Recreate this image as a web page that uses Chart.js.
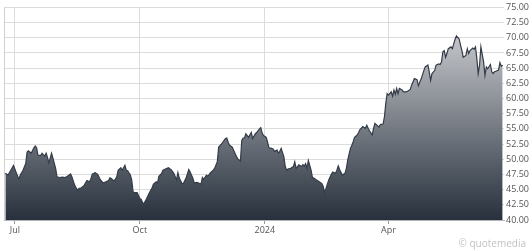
<!DOCTYPE html>
<html>
<head>
<meta charset="utf-8">
<script src="https://cdn.jsdelivr.net/npm/chart.js@4.4.1/dist/chart.umd.min.js"></script>
<style>
  html, body { margin: 0; padding: 0; background: #fff; }
  #grafico { display: block; }
</style>
</head>
<body>
<canvas id="grafico" width="532" height="251"></canvas>
<script>
// Datas das cotações (aprox. diário) e preços de fechamento
const datas = [
  "2023-06-24","2023-06-26","2023-06-28","2023-06-30","2023-07-02","2023-07-04","2023-07-05","2023-07-07","2023-07-09","2023-07-10",
  "2023-07-11","2023-07-13","2023-07-15","2023-07-16","2023-07-17","2023-07-18","2023-07-20","2023-07-21","2023-07-23","2023-07-24",
  "2023-07-25","2023-07-26","2023-07-28","2023-07-29","2023-07-31","2023-08-01","2023-08-03","2023-08-05","2023-08-07","2023-08-08",
  "2023-08-11","2023-08-12","2023-08-14","2023-08-16","2023-08-17","2023-08-19","2023-08-21","2023-08-23","2023-08-25","2023-08-26",
  "2023-08-27","2023-08-29","2023-08-31","2023-09-02","2023-09-04","2023-09-06","2023-09-08","2023-09-09","2023-09-10","2023-09-12",
  "2023-09-14","2023-09-15","2023-09-17","2023-09-18","2023-09-20","2023-09-21","2023-09-22","2023-09-24","2023-09-25","2023-09-26",
  "2023-09-27","2023-09-29","2023-10-01","2023-10-02","2023-10-03","2023-10-04","2023-10-06","2023-10-08","2023-10-10","2023-10-11",
  "2023-10-13","2023-10-14","2023-10-15","2023-10-17","2023-10-18","2023-10-21","2023-10-22","2023-10-24","2023-10-26","2023-10-28",
  "2023-10-29","2023-10-30","2023-11-01","2023-11-02","2023-11-04","2023-11-06","2023-11-07","2023-11-09","2023-11-10","2023-11-12",
  "2023-11-14","2023-11-15","2023-11-16","2023-11-17","2023-11-19","2023-11-20","2023-11-22","2023-11-24","2023-11-25","2023-11-27",
  "2023-11-28","2023-11-30","2023-12-01","2023-12-03","2023-12-04","2023-12-05","2023-12-06","2023-12-08","2023-12-09","2023-12-11",
  "2023-12-12","2023-12-14","2023-12-15","2023-12-16","2023-12-17","2023-12-18","2023-12-19","2023-12-20","2023-12-22","2023-12-23",
  "2023-12-25","2023-12-26","2023-12-28","2023-12-29","2023-12-30","2023-12-31","2024-01-02","2024-01-03","2024-01-04","2024-01-06",
  "2024-01-07","2024-01-08","2024-01-10","2024-01-11","2024-01-12","2024-01-13","2024-01-15","2024-01-16","2024-01-17","2024-01-18",
  "2024-01-20","2024-01-22","2024-01-23","2024-01-24","2024-01-25","2024-01-26","2024-01-28","2024-01-29","2024-01-30","2024-01-31",
  "2024-02-01","2024-02-02","2024-02-04","2024-02-05","2024-02-06","2024-02-08","2024-02-10","2024-02-12","2024-02-13","2024-02-14",
  "2024-02-15","2024-02-17","2024-02-19","2024-02-20","2024-02-22","2024-02-23","2024-02-24","2024-02-25","2024-02-27","2024-02-29",
  "2024-03-01","2024-03-02","2024-03-04","2024-03-05","2024-03-06","2024-03-07","2024-03-09","2024-03-10","2024-03-11","2024-03-12",
  "2024-03-13","2024-03-15","2024-03-16","2024-03-17","2024-03-18","2024-03-20","2024-03-21","2024-03-22","2024-03-24","2024-03-25",
  "2024-03-26","2024-03-28","2024-03-29","2024-03-30","2024-03-31","2024-04-01","2024-04-03","2024-04-04","2024-04-05","2024-04-06",
  "2024-04-07","2024-04-08","2024-04-09","2024-04-11","2024-04-12","2024-04-13","2024-04-14","2024-04-15","2024-04-17","2024-04-18",
  "2024-04-19","2024-04-20","2024-04-22","2024-04-23","2024-04-24","2024-04-25","2024-04-27","2024-04-28","2024-04-30","2024-05-01",
  "2024-05-02","2024-05-03","2024-05-05","2024-05-06","2024-05-08","2024-05-09","2024-05-10","2024-05-11","2024-05-12","2024-05-13",
  "2024-05-14","2024-05-15","2024-05-17","2024-05-18","2024-05-19","2024-05-20","2024-05-21","2024-05-23","2024-05-24","2024-05-25",
  "2024-05-26","2024-05-28","2024-05-29","2024-05-30","2024-05-31","2024-06-02","2024-06-03","2024-06-04","2024-06-05","2024-06-06",
  "2024-06-07","2024-06-08","2024-06-10","2024-06-11","2024-06-12","2024-06-13","2024-06-15","2024-06-16","2024-06-17","2024-06-18",
  "2024-06-19","2024-06-21","2024-06-22","2024-06-23","2024-06-24"
]
const precos = [
  47.7, 47.4, 48.2, 49.0, 47.8, 46.7, 47.4, 48.2, 49.3, 51.2,
  51.4, 51.0, 51.9, 52.2, 51.9, 50.7, 50.6, 51.0, 50.5, 51.0,
  50.3, 49.4, 51.0, 50.2, 48.5, 47.1, 47.0, 47.05, 47.0, 47.1,
  47.6, 47.1, 45.75, 44.9, 45.2, 45.3, 45.7, 46.5, 46.3, 46.85,
  47.55, 47.8, 47.5, 46.6, 46.1, 46.3, 46.5, 46.95, 46.85, 46.4,
  47.1, 48.2, 48.6, 48.2, 49.0, 48.2, 48.1, 47.4, 46.6, 44.65,
  44.5, 44.5, 43.55, 43.4, 42.85, 42.7, 43.55, 44.5, 45.3, 45.9,
  46.3, 46.1, 47.2, 47.65, 48.2, 48.5, 48.6, 48.3, 47.7, 46.6,
  47.8, 46.9, 46.0, 46.0, 46.9, 48.3, 47.9, 46.9, 46.1, 46.2,
  46.0, 45.9, 47.0, 46.7, 47.4, 47.2, 47.8, 48.2, 48.5, 49.6,
  52.0, 52.5, 52.8, 53.4, 53.5, 52.8, 52.3, 52.0, 51.5, 50.5,
  50.1, 49.7, 53.1, 53.5, 53.5, 54.2, 53.9, 53.6, 54.4, 53.4,
  54.2, 54.4, 55.0, 55.2, 54.3, 53.9, 53.6, 52.8, 51.9, 51.8,
  51.7, 51.3, 51.5, 51.0, 51.3, 51.8, 50.4, 48.8, 48.2, 48.4,
  48.5, 48.8, 49.6, 48.5, 48.8, 49.1, 48.8, 49.1, 48.9, 49.3,
  48.5, 49.8, 48.2, 47.0, 46.9, 46.6, 46.3, 46.0, 45.5, 44.5,
  45.2, 46.6, 47.55, 47.9, 47.7, 48.2, 48.9, 48.3, 47.4, 47.7,
  48.5, 49.9, 51.8, 52.3, 52.9, 53.6, 54.0, 54.4, 54.9, 55.1,
  55.4, 55.1, 55.6, 55.1, 54.7, 54.0, 55.1, 55.9, 55.5, 55.3,
  55.7, 55.8, 57.0, 59.2, 60.8, 60.55, 61.1, 60.4, 61.4, 60.7,
  61.65, 60.8, 61.65, 61.4, 61.1, 61.1, 61.1, 61.2, 61.5, 62.2,
  62.7, 63.3, 63.1, 62.1, 62.7, 63.2, 64.6, 65.2, 65.5, 64.4,
  63.0, 64.1, 64.6, 65.5, 65.7, 65.6, 66.0, 67.7, 67.9, 66.8,
  67.4, 68.2, 68.5, 68.2, 69.0, 69.75, 70.3, 69.8, 68.8, 67.9,
  66.8, 67.1, 68.2, 67.4, 67.9, 68.3, 68.1, 68.5, 66.6, 64.1,
  65.5, 68.5, 66.0, 63.8, 65.2, 64.9, 65.6, 64.4, 64.1, 64.4,
  64.5, 64.7, 65.9, 65.3, 65.5
]

// Eixo X: marcas e rótulos
const datasMarcas = ["2023-07-01", "2023-10-01", "2024-01-01", "2024-04-01"]
const rotulosMarcas = ["Jul", "Oct", "2024", "Apr"]
const periodo = ["2023-06-23", "2024-06-25"]

// Eixo Y (direita)
const valoresY = [40, 42.5, 45, 47.5, 50, 52.5, 55, 57.5, 60, 62.5, 65, 67.5, 70, 72.5, 75]

const base = Date.UTC(2023, 6, 1)
function diaDe(s) {
  const p = s.split("-").map(Number)
  return (Date.UTC(p[0], p[1] - 1, p[2]) - base) / 864e5
}

const pontos = datas.map((d, i) => ({ x: diaDe(d), y: precos[i] }))
const fonteEixo = { family: "'Open Sans', 'DejaVu Sans', sans-serif", size: 9 }

// borda esquerda + marca d'água
const extras = {
  id: "extras",
  afterDraw(chart) {
    const { ctx, chartArea } = chart
    ctx.save()
    ctx.strokeStyle = "#d0d0d0"
    ctx.lineWidth = 1
    ctx.beginPath()
    ctx.moveTo(chartArea.left + 0.5, chartArea.top)
    ctx.lineTo(chartArea.left + 0.5, chartArea.bottom)
    ctx.stroke()
    ctx.fillStyle = "#c2c2c2"
    ctx.font = "10px 'Open Sans', sans-serif"
    ctx.textAlign = "right"
    ctx.textBaseline = "middle"
    ctx.fillText("\u00A9 quotemedia", 526, 244)
    ctx.restore()
  },
}

new Chart(document.getElementById("grafico"), {
  type: "line",
  data: {
    datasets: [
      {
        data: pontos,
        borderColor: "#343c48",
        borderWidth: 1.2,
        pointRadius: 0,
        tension: 0,
        fill: "start",
        backgroundColor: (context) => {
          const area = context.chart.chartArea
          if (!area) return "#555"
          const g = context.chart.ctx.createLinearGradient(0, area.top, 0, area.bottom)
          g.addColorStop(0, "#dcdde0")
          g.addColorStop(1, "#27303c")
          return g
        },
      },
    ],
  },
  options: {
    responsive: false,
    animation: false,
    devicePixelRatio: 1,
    layout: { padding: { left: 4, top: 7, right: 0, bottom: 0 } },
    plugins: { legend: { display: false }, tooltip: { enabled: false } },
    scales: {
      x: {
        type: "linear",
        min: diaDe(periodo[0]),
        max: diaDe(periodo[1]),
        afterBuildTicks: (s) => {
          s.ticks = datasMarcas.map((d) => ({ value: diaDe(d) }))
        },
        afterFit: (s) => { s.height = 31 },
        ticks: {
          autoSkip: false,
          maxRotation: 0,
          padding: 1,
          color: "#555",
          font: fonteEixo,
          callback: (v, i) => rotulosMarcas[i],
        },
        grid: { color: "#dcdcdc", tickColor: "#999", tickLength: 4 },
        border: { color: "#b5b5b5" },
      },
      y: {
        position: "right",
        min: 40,
        max: 75,
        afterBuildTicks: (s) => {
          s.ticks = valoresY.map((v) => ({ value: v }))
        },
        afterFit: (s) => { s.width = 28 },
        ticks: {
          padding: 2,
          color: "#555",
          font: fonteEixo,
          callback: (v) => Number(v).toFixed(2),
        },
        grid: { color: "#dcdcdc", drawTicks: false },
        border: { display: false },
      },
    },
  },
  plugins: [extras],
})
</script>
</body>
</html>
